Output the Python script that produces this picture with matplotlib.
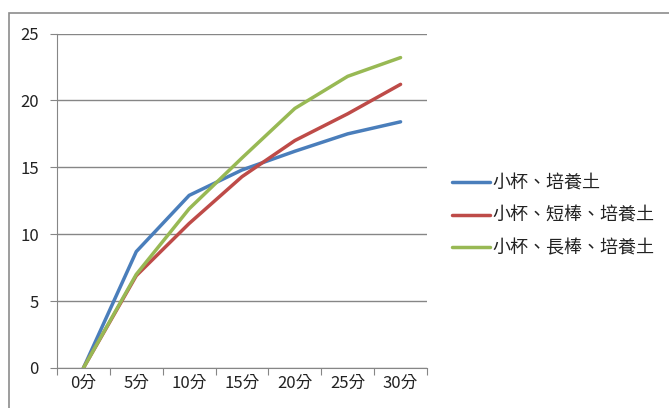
import matplotlib.pyplot as plt
from matplotlib.patches import Rectangle

plt.rcParams['font.family'] = ['Noto Sans CJK TC', 'DejaVu Sans']

# data
categories = ['0分', '5分', '10分', '15分', '20分', '25分', '30分']
cup_soil = [0, 8.7, 12.9, 14.8, 16.2, 17.5, 18.4]
cup_short_soil = [0, 6.9, 10.8, 14.3, 17.0, 19.0, 21.2]
cup_long_soil = [0, 7.0, 11.9, 15.7, 19.4, 21.8, 23.2]
labels = ['小杯、培養土', '小杯、短棒、培養土', '小杯、長棒、培養土']
colors = ['#4A7EBB', '#BE4B48', '#98B954']

fig = plt.figure(figsize=(6.69, 4.08), dpi=100)
ax = fig.add_axes([57 / 669, 1 - 368 / 408, 370 / 669, 334.5 / 408])

# chart frame like the Excel chart area
fig.patches.append(Rectangle((9 / 669, -0.1), 1.2, 1 - 13 / 408 + 0.1,
                             transform=fig.transFigure, fill=False,
                             edgecolor='#8c8c8c', linewidth=1.2))

x = range(len(categories))
for ys, lab, c in zip([cup_soil, cup_short_soil, cup_long_soil], labels, colors):
    ax.plot(x, ys, color=c, linewidth=2.5, label=lab, solid_capstyle='round')

ax.set_ylim(0, 25)
ax.set_yticks([0, 5, 10, 15, 20, 25])
ax.set_xlim(-0.5, 6.5)
ax.set_xticks([i - 0.5 for i in range(8)])
ax.set_xticklabels([])
ax.set_xticks(list(x), minor=True)
ax.set_xticklabels(categories, minor=True)
ax.tick_params(axis='x', which='minor', length=0, pad=5, labelsize=12, labelcolor='#222222')
ax.tick_params(axis='x', which='major', length=5, color='#868686', direction='out')
ax.tick_params(axis='y', length=5, color='#868686', labelsize=12, pad=8, labelcolor='#222222')

ax.grid(axis='y', color='#868686', linewidth=1)
ax.set_axisbelow(True)
for s in ['top', 'right']:
    ax.spines[s].set_visible(False)
for s in ['left', 'bottom']:
    ax.spines[s].set_color('#868686')

fig.legend(loc='center left', bbox_to_anchor=(445 / 669, 1 - 216 / 408),
           frameon=False, fontsize=13, handlelength=2.1, handletextpad=0.15,
           labelspacing=0.8, borderaxespad=0, labelcolor='#222222')

fig.savefig('out.png', dpi=100)
